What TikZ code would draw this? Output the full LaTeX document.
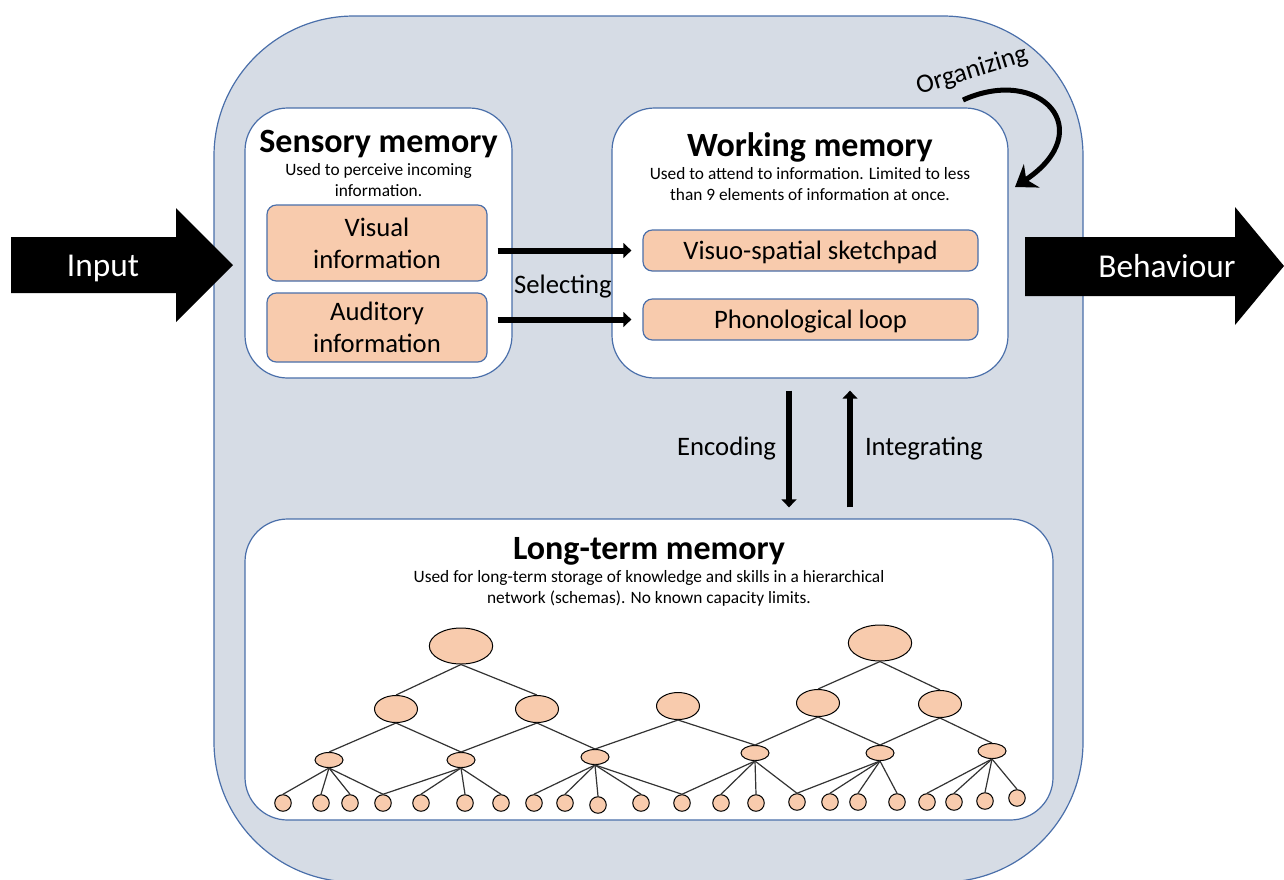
\documentclass[tikz,border=0pt]{standalone}
\usepackage{fontspec}
\setmainfont{Carlito}
\usetikzlibrary{shapes.geometric,arrows.meta,positioning}
\definecolor{panelfill}{HTML}{D6DCE5}
\definecolor{panelline}{HTML}{4A6FAA}
\definecolor{peach}{HTML}{F8CBAD}
\tikzset{
    x=0.75pt, y=-0.75pt, % one unit is one pixel of the slide
    }

\begin{document}
\begin{tikzpicture}[
memorybox/.style={draw=panelline, fill=white, line width=0.9pt, rounded corners=32pt},
peachbox/.style={draw=panelline, fill=peach, line width=0.9pt, rounded corners=7pt, align=center, font=\fontsize{20}{24}\selectfont},
oneline/.style={text height=17pt, text depth=3pt},
heading/.style={font=\fontsize{25.5}{30}\selectfont\bfseries, inner sep=0pt},
blurb/.style={font=\fontsize{13}{15.5}\selectfont, align=center, inner sep=0pt},
verblabel/.style={font=\fontsize{20}{24}\selectfont, inner sep=0pt},
bigword/.style={font=\fontsize{25}{30}\selectfont, text=white, inner sep=0pt},
flowarrow/.style={line width=4.5pt, -{Triangle[length=6pt,width=11pt]}},
bignode/.style={ellipse, draw=black, fill=peach, line width=0.75pt, minimum width=47.5pt, minimum height=27pt, inner sep=0pt},
midnode/.style={ellipse, draw=black, fill=peach, line width=0.75pt, minimum width=32.25pt, minimum height=20.25pt, inner sep=0pt},
smallnode/.style={ellipse, draw=black, fill=peach, line width=0.75pt, minimum width=21pt, minimum height=11.25pt, inner sep=0pt},
leafnode/.style={circle, draw=black, fill=peach, line width=0.75pt, minimum size=12.4pt, inner sep=0pt},
treeedge/.style={draw=black!80, line width=0.9pt},
]
\useasboundingbox (0,0) rectangle (1284,879);

% outer panel
\begin{scope}
\clip (0,0) rectangle (1284,879);
\draw[fill=panelfill, draw=panelline, line width=0.9pt, rounded corners=105pt] (214,16) rectangle (1083,882);
\end{scope}

% sensory memory
\node[memorybox, minimum width=200.25pt, minimum height=202.5pt] (sens) at (378.5,243) {};
\node[heading, below=17pt of sens.north] (sensT) {Sensory memory};
\node[blurb, below=42pt of sens.north] (sensB) {Used to perceive incoming\\information.};
\node[peachbox, minimum width=165pt, minimum height=57pt] (vis) at (377,243) {Visual\\information};
\node[peachbox, minimum width=165pt, minimum height=51.75pt] (aud) at (377,327.5) {Auditory\\information};

% working memory
\node[memorybox, minimum width=297pt, minimum height=202.5pt] (work) at (810,243) {};
\node[heading, below=18.75pt of work.north] (workT) {Working memory};
\node[blurb, below=45pt of work.north] (workB) {Used to attend to information. Limited to less\\than 9 elements of information at once.};
\node[peachbox, oneline, minimum width=251.25pt, minimum height=30.75pt] (vss) at (810.5,250.5) {Visuo-spatial sketchpad};
\node[peachbox, oneline, minimum width=251.25pt, minimum height=30.75pt] (phon) at (810.5,319.5) {Phonological loop};

% long-term memory
\node[memorybox, minimum width=606pt, minimum height=225.75pt] (ltm) at (649,669.5) {};
\node[heading, below=14.25pt of ltm.north] (ltmT) {Long-term memory};
\node[blurb, below=38.75pt of ltm.north] (ltmB) {Used for long-term storage of knowledge and skills in a hierarchical\\network (schemas). No known capacity limits.};

% schema network
\node[bignode] (t1) at (461,646) {};
\node[bignode] (t2) at (880,643) {};
\foreach \x/\y [count=\i] in {396/709, 537/709, 678/706, 818/703, 940/704}
  \node[midnode] (m\i) at (\x,\y) {};
\foreach \x/\y [count=\i] in {329/760, 461/760, 595/757, 755/753, 880/753, 992/751}
  \node[smallnode] (s\i) at (\x,\y) {};
\foreach \x/\y [count=\i] in {283/803, 321/803, 350/803, 383/803, 421/803, 465/803, 501/803, 534/803, 565/803, 598/805, 641/803,
  682/803, 721/803, 756/803, 797/802, 830/802, 858/802, 897/802, 927/802, 954/802, 985/801, 1017/798}
  \node[leafnode] (l\i) at (\x,\y) {};
\foreach \p/\c in {t1/m1, t1/m2, t2/m4, t2/m5, m1/s1, m1/s2, m2/s2, m2/s3, m3/s3, m3/s4, m4/s4, m4/s5, m5/s5, m5/s6,
  s1/l1, s1/l2, s1/l3, s1/l4, s2/l4, s2/l5, s2/l6, s2/l7, s3/l8, s3/l9, s3/l10, s3/l11, s3/l12,
  s4/l12, s4/l13, s4/l14, s4/l15, s5/l15, s5/l16, s5/l17, s5/l18, s6/l19, s6/l20, s6/l21, s6/l22}
  \draw[treeedge] (\p.south) -- (\c.north);

% selecting
\draw[flowarrow, shorten <=7.5pt, shorten >=8.25pt] (vis.east |- vss.west) -- (vss.west);
\draw[flowarrow, shorten <=7.5pt, shorten >=8.25pt] (aud.east |- phon.west) -- (phon.west);
\node[verblabel] (sel) at (563,287) {Selecting};

% encoding and integrating
\coordinate (encTop) at ([xshift=-15.75pt]work.south);
\coordinate (intTop) at ([xshift=30pt]work.south);
\draw[flowarrow, shorten <=9pt, shorten >=8.25pt] (encTop) -- (encTop |- ltm.north) node[verblabel, midway, left=7.5pt] (enc) {Encoding};
\draw[flowarrow, shorten <=8.25pt, shorten >=9pt] (intTop |- ltm.north) -- (intTop) node[verblabel, midway, right=9pt] (integ) {Integrating};

% organizing
\coordinate (orgA) at (963,100);
\coordinate (orgB) at (1015,187);
\draw[line width=3.75pt, -{Stealth[length=15pt,width=21pt]}] (orgA) .. controls (1040,65) and (1100,130) .. (orgB);
\node[verblabel, rotate=17] (org) at (972,71) {Organizing};

% input and behaviour
\fill[black] (11,237) -- (176,237) -- (176,208) -- (233,265) -- (176,322) -- (176,293) -- (11,293) -- cycle;
\node[bigword] (input) at (103,268) {Input};
\fill[black] (1025,237) -- (1235,237) -- (1235,207) -- (1284,266) -- (1235,325) -- (1235,296) -- (1025,296) -- cycle;
\node[bigword] (behav) at (1167,266) {Behaviour};
\end{tikzpicture}
\end{document}
